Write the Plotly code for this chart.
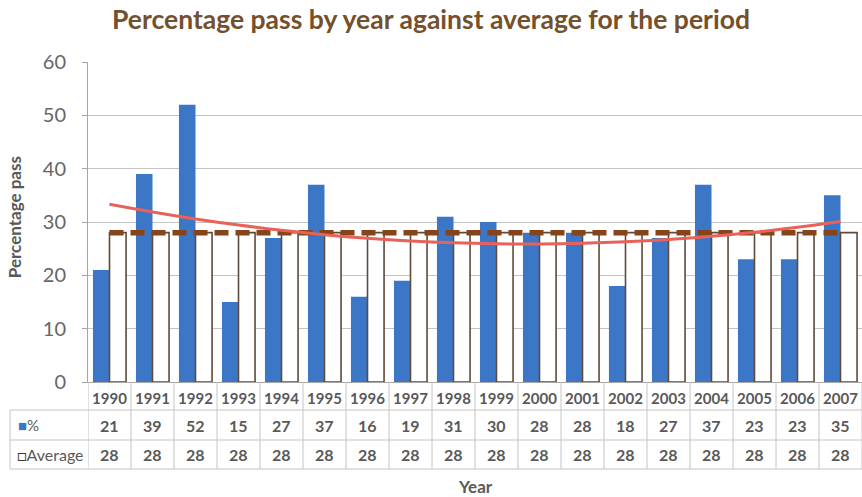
import numpy as np
import plotly.graph_objects as go

years = ["1990", "1991", "1992", "1993", "1994", "1995", "1996", "1997", "1998",
         "1999", "2000", "2001", "2002", "2003", "2004", "2005", "2006", "2007"]
pct = [21, 39, 52, 15, 27, 37, 16, 19, 31, 30, 28, 28, 18, 27, 37, 23, 23, 35]
avg = [28] * 18
row_labels = ["%", "Average"]

BLUE = "#3B77C6"
OUTLINE = "#5E4B3C"
DASH = "#86441A"
TREND = "#E8625A"
GRID = "#C4C4C4"
TXT = "#595959"
FONT = "Lato"

# 2nd-order polynomial trendline of the % series (as in the source spreadsheet)
idx = np.arange(len(pct))
coef = np.polyfit(idx, pct, 2)
trend = np.polyval(coef, idx)

fig = go.Figure()
fig.add_trace(go.Bar(x=years, y=pct, name="%", marker=dict(color=BLUE, line=dict(width=0))))
fig.add_trace(go.Bar(x=years, y=avg, name="Average",
                     marker=dict(color="white", line=dict(color=OUTLINE, width=1.6))))
fig.add_trace(go.Scatter(x=years, y=avg, mode="lines",
                         line=dict(color=DASH, width=5.5, dash="14px,7px"), showlegend=False))
fig.add_trace(go.Scatter(x=years, y=trend, mode="lines",
                         line=dict(color=TREND, width=3, shape="spline"), showlegend=False))

# data table below the plot
row_y = [0, -0.0875, -0.18125, -0.271875]   # paper y of table row borders
left = -0.1008
shapes = []
for yb in row_y[1:]:
    shapes.append(dict(type="line", xref="paper", yref="paper", x0=left, x1=1,
                       y0=yb, y1=yb, line=dict(color=GRID, width=1)))
shapes.append(dict(type="line", xref="paper", yref="paper", x0=left, x1=left,
                   y0=row_y[1], y1=row_y[3], line=dict(color=GRID, width=1)))
for k in range(len(years) + 1):
    shapes.append(dict(type="line", xref="x", yref="paper", x0=k - 0.5, x1=k - 0.5,
                       y0=0, y1=row_y[3], line=dict(color=GRID, width=1)))

annotations = []
for series, yc in ((pct, (row_y[1] + row_y[2]) / 2), (avg, (row_y[2] + row_y[3]) / 2)):
    for i, v in enumerate(series):
        annotations.append(dict(x=i, y=yc, xref="x", yref="paper", text=str(v),
                                xanchor="center", yanchor="middle", showarrow=False,
                                font=dict(family=FONT, size=16, color=TXT, weight="bold")))
annotations.append(dict(x=left + 0.008, y=(row_y[1] + row_y[2]) / 2, xref="paper", yref="paper",
                        xanchor="left", yanchor="middle", showarrow=False,
                        text=f'<span style="color:{BLUE}">■</span>{row_labels[0]}',
                        font=dict(family=FONT, size=15, color=TXT)))
annotations.append(dict(x=left + 0.006, y=(row_y[2] + row_y[3]) / 2, xref="paper", yref="paper",
                        xanchor="left", yanchor="middle", showarrow=False,
                        text=f'<span style="color:#3a3a3a">□</span>{row_labels[1]}',
                        font=dict(family=FONT, size=16, color=TXT)))
# axis titles
annotations.append(dict(x=0.5, y=-0.328, xref="paper", yref="paper", text="Year", showarrow=False,
                        xanchor="center", yanchor="middle",
                        font=dict(family=FONT, size=17, color=TXT, weight="bold")))
annotations.append(dict(x=-0.0956, y=0.515, xref="paper", yref="paper", text="Percentage pass",
                        textangle=-90, xanchor="center", yanchor="middle", showarrow=False,
                        font=dict(family=FONT, size=17, color=TXT, weight="bold")))

fig.update_layout(
    width=862, height=497,
    margin=dict(l=88, r=0, t=62, b=115),
    paper_bgcolor="white", plot_bgcolor="white",
    showlegend=False,
    bargap=0.23, bargroupgap=0,
    title=dict(text="Percentage pass by year against average for the period",
               x=0.5, xanchor="center", y=0.96, yanchor="middle",
               font=dict(family=FONT, size=26.5, color="#74502C", weight="bold")),
    xaxis=dict(type="category", range=[-0.5, len(years) - 0.5], showgrid=False,
               showline=True, linecolor="#A6A6A6", ticks="",
               tickfont=dict(family=FONT, size=15, color=TXT, weight="bold"),
               ticklabelstandoff=3),
    yaxis=dict(range=[0, 60], dtick=10, showgrid=True, gridcolor=GRID, gridwidth=1,
               showline=True, linecolor="#A6A6A6", ticks="outside", ticklen=5, tickcolor="#A6A6A6",
               tickfont=dict(family=FONT, size=20, color="#666666"), zeroline=False,
               ticklabelstandoff=12),
    shapes=shapes,
    annotations=annotations,
)

fig.write_html("out.html", config={"displayModeBar": False},
               post_script="document.body.style.margin='0';document.body.style.padding='0';")
